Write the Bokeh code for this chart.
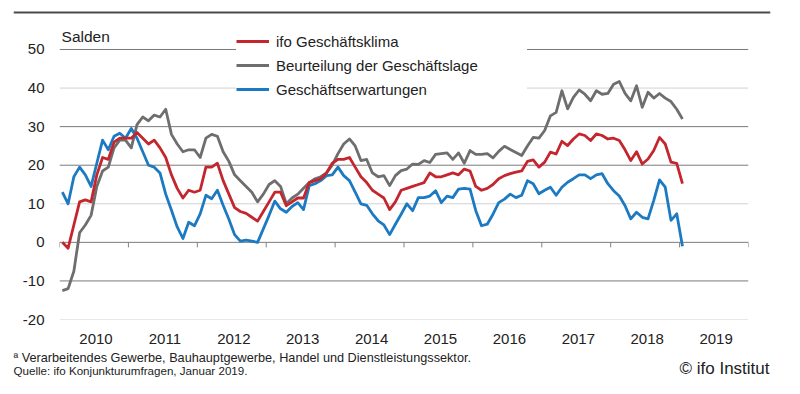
from bokeh.plotting import figure
from bokeh.models import Range1d, FixedTicker, Span, Label, Legend, LegendItem
from bokeh.embed import file_html
from bokeh.resources import INLINE

FONT = "Liberation Sans"

# ---------------- data (monthly, Jan 2010 .. Jan 2019) ----------------
start_year = 2010
klima = [
    0, -1.5, 4.5, 10.5, 11, 10.5, 17.5, 22, 21.5, 26, 27, 27,
    27, 28.5, 27, 25.5, 26.5, 24.5, 22, 17.5, 14, 11.5, 13.5, 13,
    13.5, 19.5, 19.5, 20.5, 16, 12.5, 9, 8, 7.5, 6.5, 5.5, 8,
    10.5, 13, 13, 9.5, 10.5, 11.5, 11.5, 15.5, 16, 16.5, 18, 20.5,
    21.5, 21.5, 22, 19.5, 17, 15.5, 13.5, 12.5, 11.5, 8.5, 10.5, 13.5,
    14, 14.5, 15, 15.5, 18, 17, 17, 17.5, 18, 17.5, 19, 18.5,
    14.5, 13.5, 14, 15, 16.5, 17.3, 17.8, 18.2, 18.5, 21, 21.4, 19.5,
    20.8, 23.4, 22.9, 26.2, 25.1, 26.8, 28.1, 27.7, 26.4, 28.1, 27.7, 26.8,
    27, 26.4, 24, 21.2, 23.5, 20.3, 21.6, 23.8, 27.2, 25.5, 20.8, 20.5,
    15.2,
]
lage = [
    -12.5, -12, -7.5, 2.5, 4.5, 7, 14.5, 18.5, 19.5, 24.5, 26.5, 26.5,
    24.5, 30.5, 32.5, 31.5, 33, 32.5, 34.5, 28, 25.5, 23.5, 24, 24,
    22, 27, 28, 27.5, 23.5, 21, 17.5, 16, 14.5, 13, 10.5, 12.5,
    15, 16, 14.5, 10, 11.5, 12.5, 14, 15.5, 16.5, 17, 18, 20,
    23, 25.5, 26.8, 25, 21.2, 21.5, 18, 17, 17.3, 14.7, 17.3, 18.6,
    19, 20.3, 20.2, 21.2, 20.7, 22.8, 23, 23.2, 21.5, 23.2, 20.5, 23.8,
    22.8, 22.8, 23, 21.9, 23.6, 24.9, 24.1, 23.3, 22.5, 25, 27.2, 27,
    29, 32.8, 33.7, 39.3, 34.6, 37.6, 39.5, 38.4, 36.7, 39.3, 38.4, 38.6,
    41, 41.7, 38.6, 36.7, 40.6, 35, 38.9, 37.4, 38.6, 37.4, 36.5, 34.5,
    32,
]
erwartungen = [
    13, 10, 17, 19.5, 17.5, 14.5, 20.5, 26.5, 24, 27.5, 28.3, 27,
    29.5, 27, 23.5, 20, 19.5, 18, 12.5, 8.3, 4, 1, 5.2, 4.3,
    7.4, 12.2, 11.3, 13.5, 9.6, 6, 2, 0.3, 0.6, 0.3, 0, 3.5,
    7, 10.7, 8.7, 7.8, 9.3, 10.3, 8.5, 14.7, 15.2, 16, 17.3, 17.5,
    19.5, 17.3, 16, 13, 10, 9.6, 7.4, 5.6, 4.5, 2, 4.7, 7.3,
    10, 8.2, 11.6, 11.6, 12, 13.4, 10.3, 12, 11.6, 13.8, 14, 13.8,
    8.2, 4.3, 4.7, 7.3, 10.3, 11.2, 12.5, 11.6, 12.2, 16, 15.2, 12.6,
    13.5, 14.3, 12.2, 14.3, 15.6, 16.5, 17.5, 17.5, 16.5, 17.5, 17.8, 15.2,
    13.4, 12, 9.5, 6.1, 7.8, 6.5, 6.1, 10.9, 16.2, 14.3, 5.7, 7.4,
    -1,
]
years = list(range(2010, 2020))
year_labels = [str(y) for y in years]
year_bounds = list(range(2010, 2021))
y_ticks = [-20, -10, 0, 10, 20, 30, 40, 50]
y_tick_labels = ["-20", "-10", "0", "10", "20", "30", "40", "50"]
grid_strong = [False, True, True, False, True, True, False, True]  # -20 .. 50

series_names = ["ifo Geschäftsklima", "Beurteilung der Geschäftslage", "Geschäftserwartungen"]
footnote = "ª Verarbeitendes Gewerbe, Bauhauptgewerbe, Handel und Dienstleistungssektor."
source = "Quelle: ifo Konjunkturumfragen,  Januar 2019."
copyright_text = "© ifo Institut"

RED = "#c4262e"
GRAY = "#6e6e6e"
BLUE = "#1c7ac2"
TXT = "#222222"

x = [start_year + (i + 0.5) / 12 for i in range(len(klima))]

W = 800
HEAD_H, MAIN_H, FOOT_H = 14, 333, 47


def blank(height, **borders):
    f = figure(width=W, height=height, x_range=Range1d(0, W), y_range=Range1d(height, 0),
               x_axis_type=None, y_axis_type=None, output_backend="svg",
               toolbar_location=None, **borders)
    f.grid.visible = False
    f.outline_line_color = None
    return f


# ---------------- header rule ----------------
head = blank(HEAD_H, min_border_left=13, min_border_right=30, min_border_top=0, min_border_bottom=0)
head.add_layout(Span(location=12, dimension="width", line_color="#4a4a4a", line_width=2))

# ---------------- main chart ----------------
FL, FR, FT, FB = 59, 748, 10, 305
p = figure(width=W, height=MAIN_H, x_range=Range1d(2010, 2020), y_range=Range1d(-20, 56.48),
           output_backend="svg", toolbar_location=None,
           min_border_left=FL, min_border_right=W - FR, min_border_top=FT,
           min_border_bottom=MAIN_H - FB)
p.outline_line_color = None
p.xgrid.visible = False
p.ygrid.visible = False

for lvl, strong in zip(y_ticks, grid_strong):
    p.add_layout(Span(location=lvl, dimension="width", level="underlay",
                      line_color="#7a7a7a" if strong else "#d2d2d2", line_width=1))

# year boundary ticks on the zero line
p.segment(x0=year_bounds, y0=[0] * len(year_bounds), x1=year_bounds,
          y1=[-1.3] * len(year_bounds), line_color="#808080", line_width=1)

r_lage = p.line(x, lage, line_color=GRAY, line_width=2.8, line_join="round")
r_erw = p.line(x, erwartungen, line_color=BLUE, line_width=2.8, line_join="round")
r_klima = p.line(x, klima, line_color=RED, line_width=2.8, line_join="round")

xt = [y + 0.53 for y in years]
p.xaxis.ticker = FixedTicker(ticks=xt)
p.xaxis.major_label_overrides = {t: l for t, l in zip(xt, year_labels)}
p.yaxis.ticker = FixedTicker(ticks=y_ticks)
p.yaxis.major_label_overrides = {t: l for t, l in zip(y_ticks, y_tick_labels)}
for ax in (p.xaxis[0], p.yaxis[0]):
    ax.axis_line_color = None
    ax.major_tick_line_color = None
    ax.minor_tick_line_color = None
    ax.major_tick_in = 0
    ax.major_tick_out = 0
    ax.major_label_text_font = FONT
    ax.major_label_text_font_size = "15px"
    ax.major_label_text_color = TXT
p.xaxis.major_label_standoff = 14
p.yaxis.major_label_standoff = 15

legend = Legend(items=[LegendItem(label=series_names[0], renderers=[r_klima]),
                       LegendItem(label=series_names[1], renderers=[r_lage]),
                       LegendItem(label=series_names[2], renderers=[r_erw])],
                location=(177, 220), orientation="vertical", padding=8, spacing=4,
                label_height=20, glyph_height=20, glyph_width=33, label_standoff=7,
                label_width=251, label_text_font=FONT, label_text_font_size="15px",
                label_text_color=TXT, background_fill_color="white",
                background_fill_alpha=1.0, border_line_color=None, margin=0)
p.add_layout(legend)

p.add_layout(Label(x=2010.03, y=53.4, text="Salden", text_font=FONT,
                   text_font_size="15.5px", text_baseline="middle", text_color=TXT))

# ---------------- footer ----------------
foot = blank(FOOT_H, min_border=0)
foot.add_layout(Label(x=13, y=10, text=footnote, text_font=FONT, text_font_size="12.7px",
                      text_baseline="middle", text_color=TXT))
foot.add_layout(Label(x=13, y=23, text=source, text_font=FONT, text_font_size="11.6px",
                      text_baseline="middle", text_color=TXT))
foot.add_layout(Label(x=769, y=21, text=copyright_text, text_font=FONT, text_font_size="17px",
                      text_baseline="middle", text_align="right", text_color=TXT))

open("out.html", "w").write(file_html([head, p, foot], INLINE))
